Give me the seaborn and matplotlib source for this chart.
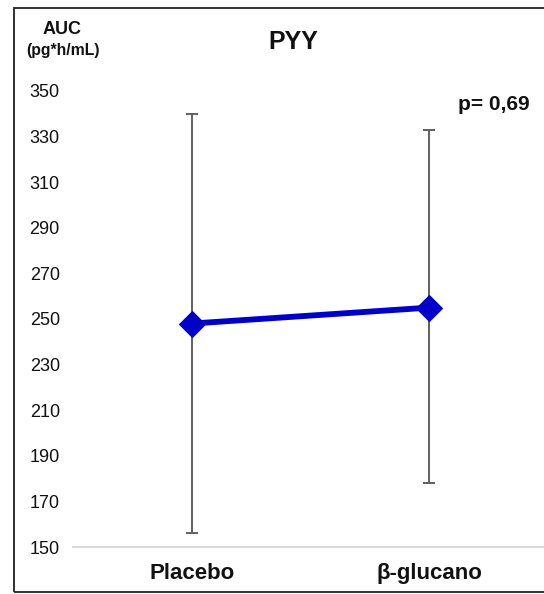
import matplotlib
matplotlib.use("Agg")
import matplotlib.pyplot as plt
from matplotlib.patches import Rectangle
import seaborn as sns
import pandas as pd

# Data
groups = ["Placebo", "β-glucano"]
auc_mean = [248, 255]
auc_upper = [340, 333]
auc_lower = [156, 178]
y_ticks = list(range(150, 351, 20))
p_label = "p= 0,69"

sns.set_theme(style="white")
plt.rcParams["font.family"] = ["Liberation Sans", "DejaVu Sans"]

df = pd.DataFrame({"grupo": groups, "auc": auc_mean})
pos = list(range(len(groups)))
df["pos"] = pos

fig = plt.figure(figsize=(5.44, 5.94), dpi=100)
ax = fig.add_axes([73 / 544, 1 - 547 / 594, 475 / 544, (547 - 91) / 594])

# Error bars (range) behind the mean line
yerr = [[m - lo for m, lo in zip(auc_mean, auc_lower)],
        [hi - m for m, hi in zip(auc_mean, auc_upper)]]
ax.errorbar(pos, auc_mean, yerr=yerr, fmt="none", ecolor="#5f5f5f",
            elinewidth=1.4, capsize=4.3, capthick=1.4, zorder=2)

sns.lineplot(data=df, x="pos", y="auc", ax=ax, color="#0000c8",
             linewidth=4.2, marker="D", markersize=13,
             markeredgecolor="#0000c8", zorder=3)

ax.set_xlim(-0.5, 1.5)
ax.set_ylim(150, 350)
ax.set_yticks(y_ticks)
ax.set_yticklabels([str(t) for t in y_ticks], fontsize=13, color="#111111")
ax.set_xticks(pos)
ax.set_xticklabels(groups, fontsize=16, fontweight="bold", color="#111111")
ax.tick_params(axis="y", length=0, pad=9.5)
ax.tick_params(axis="x", length=0, pad=11.5)
ax.set_xlabel("")
ax.set_ylabel("")

for side in ["left", "right", "top"]:
    ax.spines[side].set_visible(False)
ax.spines["bottom"].set_color("#d9d9d9")
ax.spines["bottom"].set_linewidth(1.5)
ax.grid(False)

# Titles and annotations
fig.text(293 / 544, 1 - 42 / 594, "PYY", ha="center", va="center",
         fontsize=18, fontweight="bold", color="#111111")
fig.text(62 / 544, 1 - 29 / 594, "AUC", ha="center", va="center",
         fontsize=13, fontweight="bold", color="#111111")
fig.text(63 / 544, 1 - 51 / 594, "(pg*h/mL)", ha="center", va="center",
         fontsize=11.3, fontweight="bold", color="#111111")
fig.text(494 / 544, 1 - 105 / 594, p_label, ha="center", va="center",
         fontsize=15, fontweight="bold", color="#111111")

# Chart frame
fig.patches.append(Rectangle((14 / 544, 2 / 594), 1.2, 584 / 594,
                             transform=fig.transFigure, fill=False,
                             edgecolor="#222222", linewidth=1.3))

fig.savefig("out.png", dpi=100)
